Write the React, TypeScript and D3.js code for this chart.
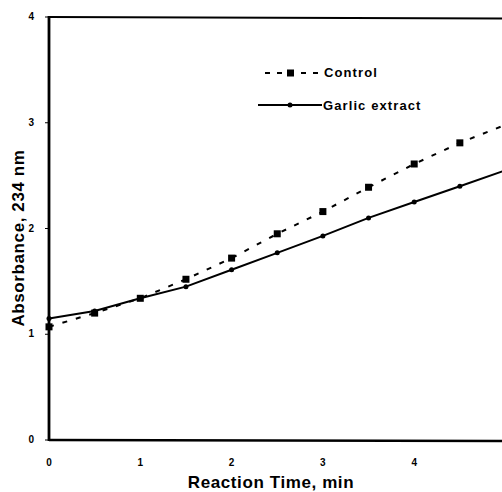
import React, { useEffect, useRef } from 'react';
import * as d3 from 'd3';

// reaction time, min
const times = [0, 0.5, 1, 1.5, 2, 2.5, 3, 3.5, 4, 4.5, 5];
// absorbance at 234 nm
const controlValues = [1.07, 1.2, 1.34, 1.52, 1.72, 1.95, 2.16, 2.39, 2.61, 2.81, 2.98];
const garlicValues = [1.15, 1.22, 1.34, 1.45, 1.61, 1.77, 1.93, 2.1, 2.25, 2.4, 2.55];
const xTicks = [0, 1, 2, 3, 4];
const yTicks = [0, 1, 2, 3, 4];

export default function App() {
  const ref = useRef<SVGSVGElement>(null);

  useEffect(() => {
    const svg = d3.select(ref.current);
    svg.selectAll('*').remove();

    const width = 502;
    const height = 492;
    const margin = { top: 17, left: 49, bottom: 52 };

    const x = d3.scaleLinear().domain([0, 5]).range([margin.left, 505.5]);
    const y = d3.scaleLinear().domain([0, 4]).range([height - margin.bottom, margin.top]);

    const font = 'Arial, "Liberation Sans", sans-serif';

    // frame: left, top, bottom (right side runs off the page)
    const frame = svg.append('g').attr('stroke', '#000').attr('fill', 'none');
    frame.append('line')
      .attr('x1', x(0)).attr('x2', x(0)).attr('y1', y(4) - 1).attr('y2', y(0) + 1)
      .attr('stroke-width', 2.8);
    frame.append('line')
      .attr('x1', x(0)).attr('x2', width).attr('y1', y(4)).attr('y2', y(4) + 1.5)
      .attr('stroke-width', 2.2);
    frame.append('line')
      .attr('x1', x(0)).attr('x2', width).attr('y1', y(0)).attr('y2', y(0) + 1)
      .attr('stroke-width', 2.6);

    // small tick marks on the y axis
    frame.selectAll('.ytick')
      .data(yTicks)
      .enter()
      .append('line')
      .attr('x1', x(0) - 4).attr('x2', x(0))
      .attr('y1', d => y(d)).attr('y2', d => y(d))
      .attr('stroke-width', 1);

    // tick labels
    svg.append('g').selectAll('text')
      .data(yTicks)
      .enter()
      .append('text')
      .text(d => d)
      .attr('x', 34)
      .attr('y', d => y(d) + 3)
      .attr('text-anchor', 'end')
      .attr('font-family', font)
      .attr('font-size', 10)
      .attr('font-weight', 'bold');

    svg.append('g').selectAll('text')
      .data(xTicks)
      .enter()
      .append('text')
      .text(d => d)
      .attr('x', d => x(d))
      .attr('y', 466)
      .attr('text-anchor', 'middle')
      .attr('font-family', font)
      .attr('font-size', 10)
      .attr('font-weight', 'bold');

    // axis titles
    svg.append('text')
      .text('Reaction Time, min')
      .attr('x', 271)
      .attr('y', 488)
      .attr('text-anchor', 'middle')
      .attr('font-family', font)
      .attr('font-size', 17)
      .attr('letter-spacing', 0.6)
      .attr('font-weight', 'bold');

    svg.append('text')
      .text('Absorbance, 234 nm')
      .attr('transform', `translate(24,238) rotate(-90)`)
      .attr('text-anchor', 'middle')
      .attr('font-family', font)
      .attr('font-size', 17)
      .attr('letter-spacing', 0.6)
      .attr('font-weight', 'bold');

    const plot = svg.append('g');

    const line = d3.line<number>()
      .x((d, i) => x(times[i]))
      .y(d => y(d));

    // control: dashed with squares
    plot.append('path')
      .datum(controlValues)
      .attr('d', line)
      .attr('fill', 'none')
      .attr('stroke', '#000')
      .attr('stroke-width', 2)
      .attr('stroke-dasharray', '5,9');
    plot.selectAll('.sq')
      .data(controlValues)
      .enter()
      .append('rect')
      .attr('x', (d, i) => x(times[i]) - 3.5)
      .attr('y', d => y(d) - 3.5)
      .attr('width', 7)
      .attr('height', 7)
      .attr('fill', '#000');

    // garlic extract: solid with small dots
    plot.append('path')
      .datum(garlicValues)
      .attr('d', line)
      .attr('fill', 'none')
      .attr('stroke', '#000')
      .attr('stroke-width', 2);
    plot.selectAll('.dot')
      .data(garlicValues)
      .enter()
      .append('circle')
      .attr('cx', (d, i) => x(times[i]))
      .attr('cy', d => y(d))
      .attr('r', 2.5)
      .attr('fill', '#000');

    // legend
    const legend = svg.append('g');
    legend.append('line')
      .attr('x1', 265).attr('x2', 320).attr('y1', 73).attr('y2', 73)
      .attr('stroke', '#000').attr('stroke-width', 2).attr('stroke-dasharray', '5,7');
    legend.append('rect')
      .attr('x', 287).attr('y', 69.5).attr('width', 7).attr('height', 7).attr('fill', '#000');
    legend.append('text')
      .text('Control')
      .attr('x', 324).attr('y', 77)
      .attr('font-family', font).attr('font-size', 13).attr('font-weight', 'bold')
      .attr('letter-spacing', 1.1);

    legend.append('line')
      .attr('x1', 258).attr('x2', 322).attr('y1', 105).attr('y2', 105)
      .attr('stroke', '#000').attr('stroke-width', 2);
    legend.append('circle')
      .attr('cx', 290).attr('cy', 105).attr('r', 2.5).attr('fill', '#000');
    legend.append('text')
      .text('Garlic extract')
      .attr('x', 323).attr('y', 110)
      .attr('font-family', font).attr('font-size', 13).attr('font-weight', 'bold')
      .attr('letter-spacing', 1.1);
  }, []);

  return (
    <svg
      ref={ref}
      width={502}
      height={492}
      style={{ position: 'absolute', left: 0, top: 0, background: '#fff' }}
    />
  );
}
